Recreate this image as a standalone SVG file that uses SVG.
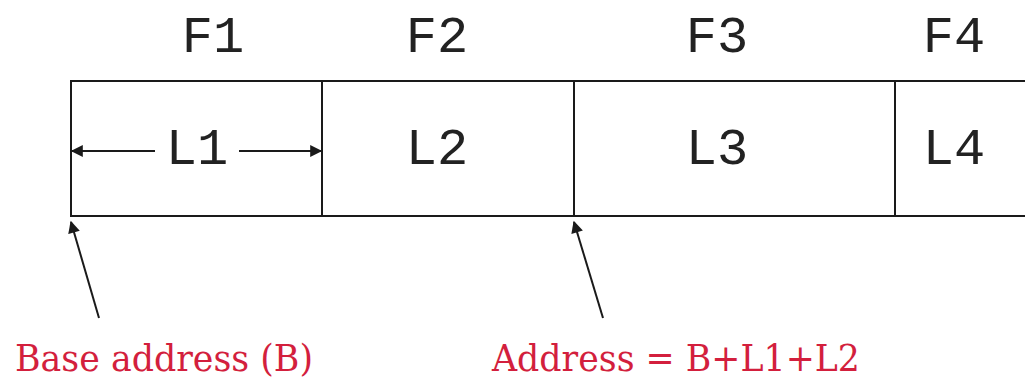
<svg xmlns="http://www.w3.org/2000/svg" width="1025" height="381" viewBox="0 0 1025 381">
  <style>
    .box { fill: none; stroke: #1a1a1a; stroke-width: 2; }
    .lbl { font-family: "Liberation Mono", "Courier New", monospace; font-size: 52px; fill: #222; text-anchor: middle; }
    .note { font-family: "DejaVu Serif", "Liberation Serif", serif; font-size: 38px; fill: #d31f3d; }
    .conn { stroke: #1a1a1a; stroke-width: 2; fill: none; }
  </style>
  <defs>
    <marker id="head" viewBox="0 0 10 10" refX="9" refY="5" markerWidth="6.5" markerHeight="6" orient="auto-start-reverse" markerUnits="strokeWidth">
      <path d="M0,0 L10,5 L0,10 Z" fill="#1a1a1a"/>
    </marker>
  </defs>
  <rect width="1025" height="381" fill="#ffffff"/>

  <!-- field cells; the strip runs on past the right edge -->
  <g id="field-f1">
    <path class="box" d="M1030,81 H71 V216 H1030"/>
    <text class="lbl" x="213" y="52">F1</text>
    <text class="lbl" x="197" y="164">L1</text>
  </g>
  <g id="field-f2">
    <line class="box" x1="322" y1="81" x2="322" y2="216"/>
    <text class="lbl" x="437" y="52">F2</text>
    <text class="lbl" x="437" y="164">L2</text>
  </g>
  <g id="field-f3">
    <line class="box" x1="574" y1="81" x2="574" y2="216"/>
    <text class="lbl" x="717" y="52">F3</text>
    <text class="lbl" x="717" y="164">L3</text>
  </g>
  <g id="field-f4">
    <line class="box" x1="895" y1="81" x2="895" y2="216"/>
    <text class="lbl" x="954" y="52">F4</text>
    <text class="lbl" x="954" y="164">L4</text>
  </g>

  <!-- address annotations -->
  <g id="base-address">
    <text class="note" x="15" y="371" textLength="298" lengthAdjust="spacingAndGlyphs">Base address (B)</text>
  </g>
  <g id="field-address">
    <text class="note" x="492" y="371" textLength="368" lengthAdjust="spacingAndGlyphs">Address = B+L1+L2</text>
  </g>

  <g id="connectors">
    <line class="conn" x1="155" y1="151" x2="72" y2="151" marker-end="url(#head)"/>
    <line class="conn" x1="239" y1="151" x2="321" y2="151" marker-end="url(#head)"/>
    <line class="conn" x1="99" y1="318" x2="71" y2="222" marker-end="url(#head)"/>
    <line class="conn" x1="603" y1="318" x2="574" y2="222" marker-end="url(#head)"/>
  </g>
</svg>
